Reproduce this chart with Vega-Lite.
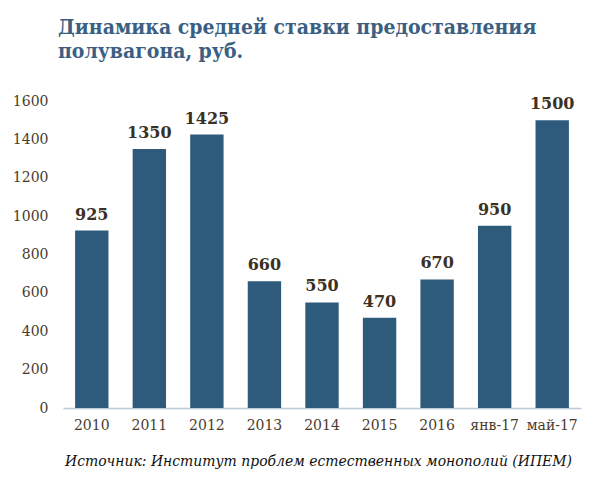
{
  "$schema": "https://vega.github.io/schema/vega-lite/v6.json",
  "width": 518,
  "height": 307,
  "autosize": {"type": "none"},
  "padding": {"left": 63, "top": 101, "right": 19, "bottom": 92},
  "background": "white",
  "title": {
    "text": ["Динамика средней ставки предоставления", "полувагона, руб."],
    "anchor": "start",
    "frame": "group",
    "orient": "top",
    "font": "DejaVu Serif Condensed",
    "fontSize": 21,
    "fontWeight": "bold",
    "color": "#3B5F82",
    "lineHeight": 24,
    "dx": -5,
    "offset": 32
  },
  "data": {
    "values": [
      {"period": "2010", "value": 925},
      {"period": "2011", "value": 1350},
      {"period": "2012", "value": 1425},
      {"period": "2013", "value": 660},
      {"period": "2014", "value": 550},
      {"period": "2015", "value": 470},
      {"period": "2016", "value": 670},
      {"period": "янв-17", "value": 950},
      {"period": "май-17", "value": 1500}
    ]
  },
  "encoding": {
    "x": {
      "field": "period",
      "type": "nominal",
      "sort": null,
      "scale": {"paddingInner": 0.42, "paddingOuter": 0.21},
      "axis": {
        "title": "Источник: Институт проблем естественных монополий (ИПЕМ)",
        "titleFont": "DejaVu Serif Condensed",
        "titleFontStyle": "italic",
        "titleFontWeight": "normal",
        "titleFontSize": 15.5,
        "titleColor": "#111111",
        "titlePadding": 21,
        "titleX": 255,
        "labelAngle": 0,
        "labelFont": "DejaVu Serif",
        "labelFontSize": 14,
        "labelColor": "#4A3C2C",
        "labelPadding": 10,
        "ticks": false,
        "domainColor": "#B8C8D8",
        "domainWidth": 1.5
      }
    },
    "y": {
      "field": "value",
      "type": "quantitative",
      "scale": {"domain": [0, 1600]},
      "axis": {
        "title": null,
        "format": "d",
        "values": [0, 200, 400, 600, 800, 1000, 1200, 1400, 1600],
        "grid": false,
        "domain": false,
        "ticks": false,
        "labelFont": "DejaVu Serif",
        "labelFontSize": 14,
        "labelColor": "#4A3C2C",
        "labelPadding": 15
      }
    }
  },
  "layer": [
    {"mark": {"type": "bar", "color": "#2E5A7C"}},
    {
      "mark": {
        "type": "text",
        "baseline": "bottom",
        "dy": -8,
        "font": "DejaVu Serif",
        "fontSize": 16,
        "fontWeight": "bold",
        "color": "#3A3024"
      },
      "encoding": {"text": {"field": "value", "type": "quantitative", "format": "d"}}
    }
  ],
  "config": {"view": {"stroke": null}}
}
